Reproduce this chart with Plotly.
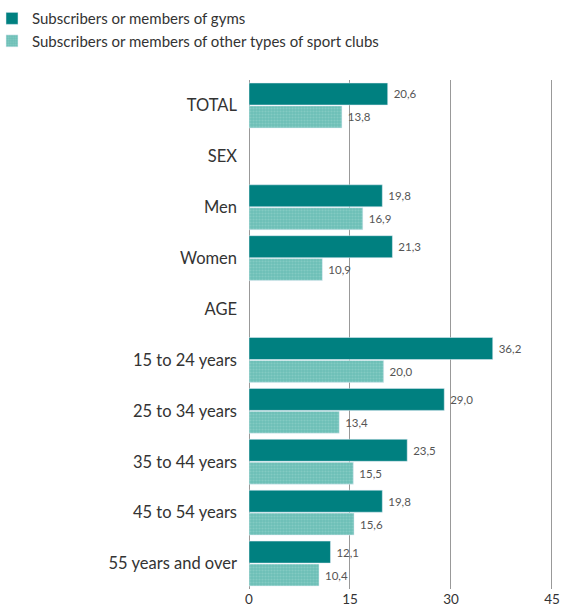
import plotly.graph_objects as go

categories = ["TOTAL", "SEX", "Men", "Women", "AGE", "15 to 24 years",
              "25 to 34 years", "35 to 44 years", "45 to 54 years", "55 years and over"]
gyms = [20.6, None, 19.8, 21.3, None, 36.2, 29.0, 23.5, 19.8, 12.1]
other_clubs = [13.8, None, 16.9, 10.9, None, 20.0, 13.4, 15.5, 15.6, 10.4]
tick_vals = [0, 15, 30, 45]

FONT = "Lato, Open Sans, sans-serif"

fig = go.Figure()
fig.add_trace(go.Bar(
    y=categories, x=gyms, orientation="h",
    name="Subscribers or members of gyms",
    marker=dict(color="#008080"),
    text=gyms, texttemplate=" %{x:.1f}", textposition="outside",
    textfont=dict(size=11.5, color="#555555"), cliponaxis=False,
))
fig.add_trace(go.Bar(
    y=categories, x=other_clubs, orientation="h",
    name="Subscribers or members of other types of sport clubs",
    marker=dict(color="#6dbfb6",
                pattern=dict(shape=".", fgcolor="#9ad6cf", size=3, solidity=0.4)),
    text=other_clubs, texttemplate=" %{x:.1f}", textposition="outside",
    textfont=dict(size=11.5, color="#555555"), cliponaxis=False,
))

fig.update_layout(
    width=561, height=610,
    margin=dict(l=249, r=7, t=80, b=21, autoexpand=False),
    paper_bgcolor="white", plot_bgcolor="white",
    separators=",.",
    barmode="group", bargap=0.1, bargroupgap=0.04,
    font=dict(family=FONT, color="#333333"),
    legend=dict(orientation="v", xref="paper", yref="paper",
                x=-0.8426, y=1.153, xanchor="left", yanchor="top",
                font=dict(size=15, color="#333333"),
                itemwidth=30),
    showlegend=True,
)
fig.update_xaxes(range=[0, 45.3], tickvals=tick_vals, showgrid=True,
                 gridcolor="#999999", gridwidth=1, zeroline=True,
                 zerolinecolor="#999999", zerolinewidth=1,
                 tickfont=dict(size=13.5, color="#333333"),
                 showline=False)
fig.update_yaxes(autorange="reversed",
                 tickfont=dict(size=16.5, color="#333333"),
                 ticks="", ticklabelstandoff=11, showgrid=False)

fig.write_html("out.html")
